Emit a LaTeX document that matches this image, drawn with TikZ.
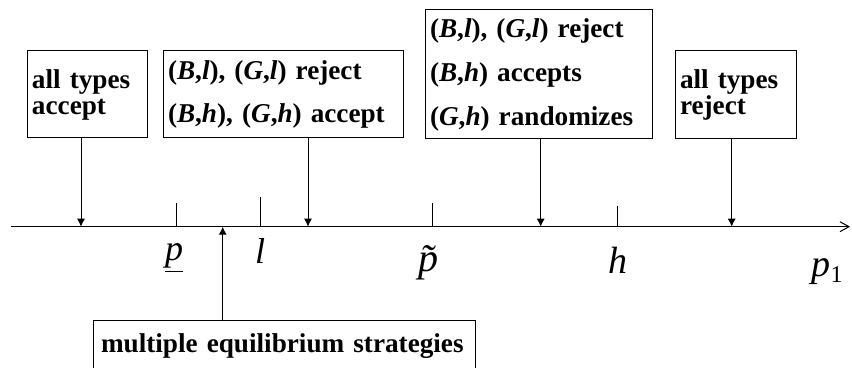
\documentclass[tikz,border=0pt]{standalone}
\usepackage{fontspec}
\setmainfont{Liberation Serif}
\usetikzlibrary{arrows.meta}
\tikzstyle{region} = [rectangle, draw=black, line width=0.5pt,
                      align=left, inner sep=2.5pt,
                      font=\bfseries\fontsize{13.6}{13}\selectfont]
\tikzstyle{arrow} = [line width=0.5pt, -{Latex[length=4pt,width=4pt]}]
\tikzstyle{tick} = [line width=0.5pt]
\tikzstyle{lab} = [inner sep=0pt, anchor=base]
\newcommand{\ital}[1]{\textit{#1}}

\begin{document}
\begin{tikzpicture}[x=0.5pt, y=-0.5pt]
        \useasboundingbox (0,0) rectangle (852,368);
        \clip (0,0) rectangle (852,368);

        % price axis
        \coordinate (start) at (11,226.7);
        \coordinate (end) at (850,226.7);
        \draw [line width=0.5pt, -{Straight Barb[length=4.5pt,width=5pt]}] (start) -- (end);

        % ticks and their labels
        \coordinate (tplow) at (176.7,226.7);
        \coordinate (tl) at (260,226.7);
        \coordinate (tptilde) at (432.7,226.7);
        \coordinate (th) at (617.7,226.7);
        \draw [tick] (tplow) -- ++(0,-24);
        \draw [tick] (tl) -- ++(0,-30);
        \draw [tick] (tptilde) -- ++(0,-24);
        \draw [tick] (th) -- ++(0,-21);

        \node (plow) [lab, font=\fontsize{18}{18}\selectfont] at (174,261) {\underline{\ital{p}}};
        \node (l) [lab, font=\fontsize{18}{18}\selectfont] at (260,264) {\ital{l}};
        \node (ptilde) [lab, font=\fontsize{20}{20}\selectfont] at (436,272) {\ital{\~{p}}};
        \node (h) [lab, font=\fontsize{19}{19}\selectfont] at (618,274) {\ital{h}};
        \node (p1) [lab, font=\fontsize{19}{19}\selectfont] at (827,277) {\ital{p}\raisebox{-0.3ex}{\fontsize{12}{12}\selectfont 1}};

        % regions
        \node (allaccept) [region, text width=55pt, minimum height=43.5pt] at (87,94.5)
            {all types\\accept};
        \node (lowreject) [region, text width=115pt, minimum height=43.5pt] at (283,94.5)
            {(\ital{B},\ital{l}), (\ital{G},\ital{l}) reject\\[8.5pt](\ital{B},\ital{h}), (\ital{G},\ital{h}) accept};
        \node (randomize) [region, text width=108.5pt, minimum height=64.5pt] at (538.5,74.5)
            {(\ital{B},\ital{l}), (\ital{G},\ital{l}) reject\\[9pt](\ital{B},\ital{h}) accepts\\[9pt](\ital{G},\ital{h}) randomizes};
        \node (allreject) [region, text width=55.5pt, minimum height=44pt] at (735.5,95)
            {all types\\reject};
        \node (multiple) [region, text width=183pt, inner xsep=4pt, inner ysep=4pt,
                          text height=12pt, text depth=14pt] at (284,353)
            [anchor=base] {multiple equilibrium strategies};

        % connectors
        \coordinate (a1) at (81,226.7);
        \coordinate (a2) at (308,226.7);
        \coordinate (a3) at (540.7,226.7);
        \coordinate (a4) at (731.7,226.7);
        \coordinate (a5) at (222.7,226.7);
        \draw [arrow] (allaccept.south -| a1) -- (a1);
        \draw [arrow] (lowreject.south -| a2) -- (a2);
        \draw [arrow] (randomize.south -| a3) -- (a3);
        \draw [arrow] (allreject.south -| a4) -- (a4);
        \draw [arrow] (multiple.north -| a5) -- (a5);

    \end{tikzpicture}
\end{document}
